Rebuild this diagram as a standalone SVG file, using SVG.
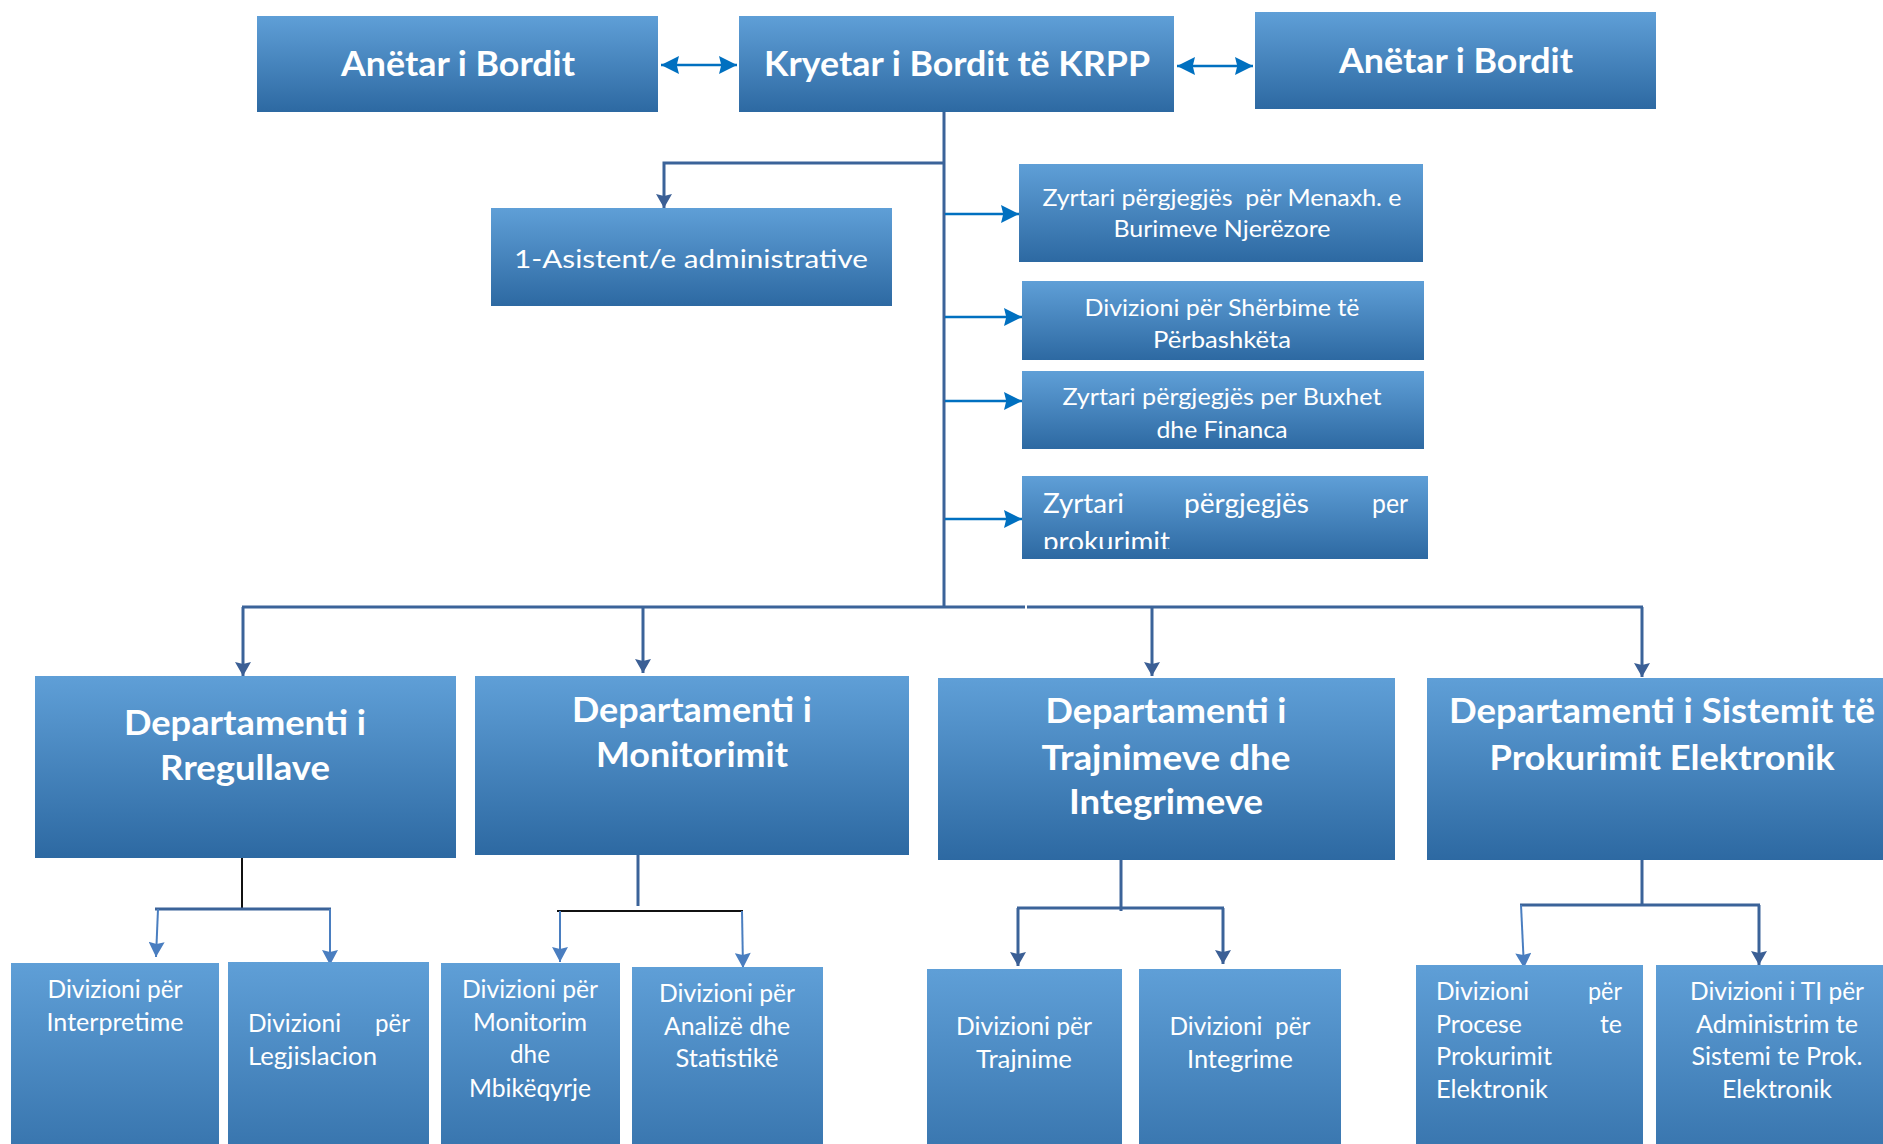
<svg xmlns="http://www.w3.org/2000/svg" width="1883" height="1144" viewBox="0 0 1883 1144">
<defs>
  <linearGradient id="g" x1="0" y1="0" x2="0" y2="1">
    <stop offset="0" stop-color="#5F9FD7"/>
    <stop offset="1" stop-color="#2D69A2"/>
  </linearGradient>
  <marker id="aBlue" markerUnits="userSpaceOnUse" markerWidth="18" markerHeight="18" viewBox="0 0 16 16" refX="16" refY="8" orient="auto-start-reverse">
    <path d="M0,0 L16,8 L0,16 L2,8 z" fill="#0070C0"/>
  </marker>
  <marker id="aSteel" markerUnits="userSpaceOnUse" markerWidth="16" markerHeight="16" viewBox="0 0 14 16" refX="14" refY="8" orient="auto">
    <path d="M0,0 L14,8 L0,16 L2,8 z" fill="#3B5F95"/>
  </marker>
  <marker id="aLight" markerUnits="userSpaceOnUse" markerWidth="16" markerHeight="16" viewBox="0 0 15 16" refX="15" refY="8" orient="auto">
    <path d="M0,0 L15,8 L0,16 L2,8 z" fill="#4A7EC0"/>
  </marker>
  <clipPath id="clipProk"><rect x="1022" y="476" width="406" height="73"/></clipPath>
</defs>
<style>
  .box { fill: url(#g); }
  text { fill: #FFFFFF; font-family: Lato, "Open Sans", "Liberation Sans", sans-serif; }
  .b { font-weight: bold; }
  .c { text-anchor: middle; }
  .steel { stroke: #3B6399; stroke-width: 3; fill: none; }
  .blue { stroke: #0070C0; stroke-width: 2.5; fill: none; }
  .light { stroke: #4A7EC0; stroke-width: 2; fill: none; }
  .black { stroke: #111111; stroke-width: 2; fill: none; }
</style>

<g id="connectors">
  <line class="blue" x1="661" y1="65" x2="737" y2="65" marker-start="url(#aBlue)" marker-end="url(#aBlue)"/>
  <line class="blue" x1="1177" y1="66" x2="1253" y2="66" marker-start="url(#aBlue)" marker-end="url(#aBlue)"/>
  <line class="steel" x1="944" y1="112" x2="944" y2="608"/>
  <polyline class="steel" points="944,163 664,163 664,208" marker-end="url(#aSteel)"/>
  <line class="blue" x1="945" y1="214" x2="1019" y2="214" marker-end="url(#aBlue)"/>
  <line class="blue" x1="945" y1="317" x2="1022" y2="317" marker-end="url(#aBlue)"/>
  <line class="blue" x1="945" y1="401" x2="1022" y2="401" marker-end="url(#aBlue)"/>
  <line class="blue" x1="945" y1="519" x2="1022" y2="519" marker-end="url(#aBlue)"/>
  <line class="steel" x1="242" y1="607" x2="1025" y2="607"/>
  <line class="steel" x1="1027" y1="607" x2="1643" y2="607"/>
  <line class="steel" x1="243" y1="607" x2="243" y2="676" marker-end="url(#aSteel)"/>
  <line class="steel" x1="643" y1="607" x2="643" y2="673" marker-end="url(#aSteel)"/>
  <line class="steel" x1="1152" y1="607" x2="1152" y2="676" marker-end="url(#aSteel)"/>
  <line class="steel" x1="1642" y1="607" x2="1642" y2="677" marker-end="url(#aSteel)"/>

  <line class="black" x1="242" y1="858" x2="242" y2="910"/>
  <line class="steel" x1="155" y1="909" x2="331" y2="909"/>
  <line class="light" x1="158" y1="909" x2="156" y2="957" marker-end="url(#aLight)"/>
  <line class="light" x1="330" y1="909" x2="330" y2="965" marker-end="url(#aLight)"/>

  <line class="steel" x1="638" y1="855" x2="638" y2="906"/>
  <line class="black" x1="557" y1="911" x2="743" y2="911" stroke-width="3"/>
  <line class="light" x1="560" y1="911" x2="560" y2="962" marker-end="url(#aLight)"/>
  <line class="light" x1="742" y1="911" x2="743" y2="968" marker-end="url(#aLight)"/>

  <line class="steel" x1="1121" y1="860" x2="1121" y2="911"/>
  <line class="steel" x1="1017" y1="908" x2="1224" y2="908"/>
  <line class="steel" x1="1018" y1="908" x2="1018" y2="966" marker-end="url(#aSteel)"/>
  <line class="steel" x1="1223" y1="908" x2="1223" y2="964" marker-end="url(#aSteel)"/>

  <line class="steel" x1="1642" y1="860" x2="1642" y2="905"/>
  <line class="steel" x1="1520" y1="905" x2="1760" y2="905"/>
  <line class="light" x1="1521" y1="905" x2="1524" y2="968" marker-end="url(#aLight)"/>
  <line class="steel" x1="1759" y1="905" x2="1759" y2="965" marker-end="url(#aSteel)"/>
</g>

<g id="anetar-left">
  <rect class="box" x="257" y="16" width="401" height="96"/>
  <text class="b c" x="458" y="76" font-size="34" textLength="234" lengthAdjust="spacingAndGlyphs">Anëtar i Bordit</text>
</g>
<g id="kryetar">
  <rect class="box" x="739" y="16" width="435" height="96"/>
  <text class="b c" x="957" y="76" font-size="34" textLength="386" lengthAdjust="spacingAndGlyphs">Kryetar i Bordit të KRPP</text>
</g>
<g id="anetar-right">
  <rect class="box" x="1255" y="12" width="401" height="97"/>
  <text class="b c" x="1456" y="73" font-size="34" textLength="234" lengthAdjust="spacingAndGlyphs">Anëtar i Bordit</text>
</g>

<g id="asistent">
  <rect class="box" x="491" y="208" width="401" height="98"/>
  <text class="c" x="691" y="268" font-size="25" textLength="354" lengthAdjust="spacingAndGlyphs">1-Asistent/e administrative</text>
</g>
<g id="menaxh">
  <rect class="box" x="1019" y="164" width="404" height="98"/>
  <text class="c" x="1222" y="206" font-size="23" textLength="359" lengthAdjust="spacingAndGlyphs" xml:space="preserve">Zyrtari përgjegjës  për Menaxh. e</text>
  <text class="c" x="1222" y="237" font-size="23" textLength="217" lengthAdjust="spacingAndGlyphs">Burimeve Njerëzore</text>
</g>
<g id="sherbime">
  <rect class="box" x="1022" y="281" width="402" height="79"/>
  <text class="c" x="1222" y="316" font-size="23" textLength="275" lengthAdjust="spacingAndGlyphs">Divizioni për Shërbime të</text>
  <text class="c" x="1222" y="348" font-size="23" textLength="138" lengthAdjust="spacingAndGlyphs">Përbashkëta</text>
</g>
<g id="buxhet">
  <rect class="box" x="1022" y="371" width="402" height="78"/>
  <text class="c" x="1222" y="405" font-size="24" textLength="319" lengthAdjust="spacingAndGlyphs">Zyrtari përgjegjës per Buxhet</text>
  <text class="c" x="1222" y="438" font-size="24" textLength="131" lengthAdjust="spacingAndGlyphs">dhe Financa</text>
</g>
<g id="prokurimit">
  <rect class="box" x="1022" y="476" width="406" height="83"/>
  <g clip-path="url(#clipProk)">
    <text x="1043" y="513" font-size="26" textLength="81" lengthAdjust="spacingAndGlyphs">Zyrtari</text>
    <text x="1184" y="513" font-size="26" textLength="125" lengthAdjust="spacingAndGlyphs">përgjegjës</text>
    <text x="1372" y="513" font-size="26" textLength="36" lengthAdjust="spacingAndGlyphs">per</text>
    <text x="1043" y="551" font-size="26" textLength="127" lengthAdjust="spacingAndGlyphs">prokurimit</text>
  </g>
</g>

<g id="dep-rregullave">
  <rect class="box" x="35" y="676" width="421" height="182"/>
  <text class="b c" x="245" y="735" font-size="35" textLength="242" lengthAdjust="spacingAndGlyphs">Departamenti i</text>
  <text class="b c" x="245" y="780" font-size="35" textLength="170" lengthAdjust="spacingAndGlyphs">Rregullave</text>
</g>
<g id="dep-monitorimit">
  <rect class="box" x="475" y="676" width="434" height="179"/>
  <text class="b c" x="692" y="722" font-size="35" textLength="240" lengthAdjust="spacingAndGlyphs">Departamenti i</text>
  <text class="b c" x="692" y="767" font-size="35" textLength="192" lengthAdjust="spacingAndGlyphs">Monitorimit</text>
</g>
<g id="dep-trajnimeve">
  <rect class="box" x="938" y="678" width="457" height="182"/>
  <text class="b c" x="1166" y="723" font-size="35" textLength="241" lengthAdjust="spacingAndGlyphs">Departamenti i</text>
  <text class="b c" x="1166" y="770" font-size="35" textLength="249" lengthAdjust="spacingAndGlyphs">Trajnimeve dhe</text>
  <text class="b c" x="1166" y="814" font-size="35" textLength="194" lengthAdjust="spacingAndGlyphs">Integrimeve</text>
</g>
<g id="dep-sistemit">
  <rect class="box" x="1427" y="678" width="470" height="182"/>
  <text class="b c" x="1662" y="723" font-size="35" textLength="426" lengthAdjust="spacingAndGlyphs">Departamenti i Sistemit të</text>
  <text class="b c" x="1662" y="770" font-size="35" textLength="345" lengthAdjust="spacingAndGlyphs">Prokurimit Elektronik</text>
</g>

<g id="div-interpretime">
  <rect class="box" x="11" y="963" width="208" height="240"/>
  <text class="c" x="115" y="998" font-size="25" textLength="135" lengthAdjust="spacingAndGlyphs">Divizioni për</text>
  <text class="c" x="115" y="1031" font-size="25" textLength="137" lengthAdjust="spacingAndGlyphs">Interpretime</text>
</g>
<g id="div-legjislacion">
  <rect class="box" x="228" y="962" width="201" height="240"/>
  <text x="248" y="1032" font-size="25" textLength="93" lengthAdjust="spacingAndGlyphs">Divizioni</text>
  <text x="375" y="1032" font-size="25" textLength="35" lengthAdjust="spacingAndGlyphs">për</text>
  <text x="248" y="1065" font-size="25" textLength="129" lengthAdjust="spacingAndGlyphs">Legjislacion</text>
</g>
<g id="div-monitorim">
  <rect class="box" x="441" y="963" width="179" height="240"/>
  <text class="c" x="530" y="998" font-size="25" textLength="136" lengthAdjust="spacingAndGlyphs">Divizioni për</text>
  <text class="c" x="530" y="1031" font-size="25" textLength="114" lengthAdjust="spacingAndGlyphs">Monitorim</text>
  <text class="c" x="530" y="1063" font-size="25" textLength="40" lengthAdjust="spacingAndGlyphs">dhe</text>
  <text class="c" x="530" y="1097" font-size="25" textLength="122" lengthAdjust="spacingAndGlyphs">Mbikëqyrje</text>
</g>
<g id="div-analize">
  <rect class="box" x="632" y="967" width="191" height="240"/>
  <text class="c" x="727" y="1002" font-size="25" textLength="136" lengthAdjust="spacingAndGlyphs">Divizioni për</text>
  <text class="c" x="727" y="1035" font-size="25" textLength="126" lengthAdjust="spacingAndGlyphs">Analizë dhe</text>
  <text class="c" x="727" y="1067" font-size="25" textLength="103" lengthAdjust="spacingAndGlyphs">Statistikë</text>
</g>
<g id="div-trajnime">
  <rect class="box" x="927" y="969" width="195" height="240"/>
  <text class="c" x="1024" y="1035" font-size="25" textLength="136" lengthAdjust="spacingAndGlyphs">Divizioni për</text>
  <text class="c" x="1024" y="1068" font-size="25" textLength="96" lengthAdjust="spacingAndGlyphs">Trajnime</text>
</g>
<g id="div-integrime">
  <rect class="box" x="1139" y="969" width="202" height="240"/>
  <text class="c" x="1240" y="1035" font-size="25" textLength="141" lengthAdjust="spacingAndGlyphs" xml:space="preserve">Divizioni  për</text>
  <text class="c" x="1240" y="1068" font-size="25" textLength="106" lengthAdjust="spacingAndGlyphs">Integrime</text>
</g>
<g id="div-procese">
  <rect class="box" x="1416" y="965" width="227" height="240"/>
  <text x="1436" y="1000" font-size="25" textLength="93" lengthAdjust="spacingAndGlyphs">Divizioni</text>
  <text x="1588" y="1000" font-size="25" textLength="34" lengthAdjust="spacingAndGlyphs">për</text>
  <text x="1436" y="1033" font-size="25" textLength="86" lengthAdjust="spacingAndGlyphs">Procese</text>
  <text x="1600" y="1033" font-size="25" textLength="22" lengthAdjust="spacingAndGlyphs">te</text>
  <text x="1436" y="1065" font-size="25" textLength="116" lengthAdjust="spacingAndGlyphs">Prokurimit</text>
  <text x="1436" y="1098" font-size="25" textLength="112" lengthAdjust="spacingAndGlyphs">Elektronik</text>
</g>
<g id="div-ti">
  <rect class="box" x="1656" y="965" width="240" height="240"/>
  <text class="c" x="1777" y="1000" font-size="25" textLength="174" lengthAdjust="spacingAndGlyphs">Divizioni i TI për</text>
  <text class="c" x="1777" y="1033" font-size="25" textLength="162" lengthAdjust="spacingAndGlyphs">Administrim te</text>
  <text class="c" x="1777" y="1065" font-size="25" textLength="171" lengthAdjust="spacingAndGlyphs">Sistemi te Prok.</text>
  <text class="c" x="1777" y="1098" font-size="25" textLength="110" lengthAdjust="spacingAndGlyphs">Elektronik</text>
</g>
</svg>
